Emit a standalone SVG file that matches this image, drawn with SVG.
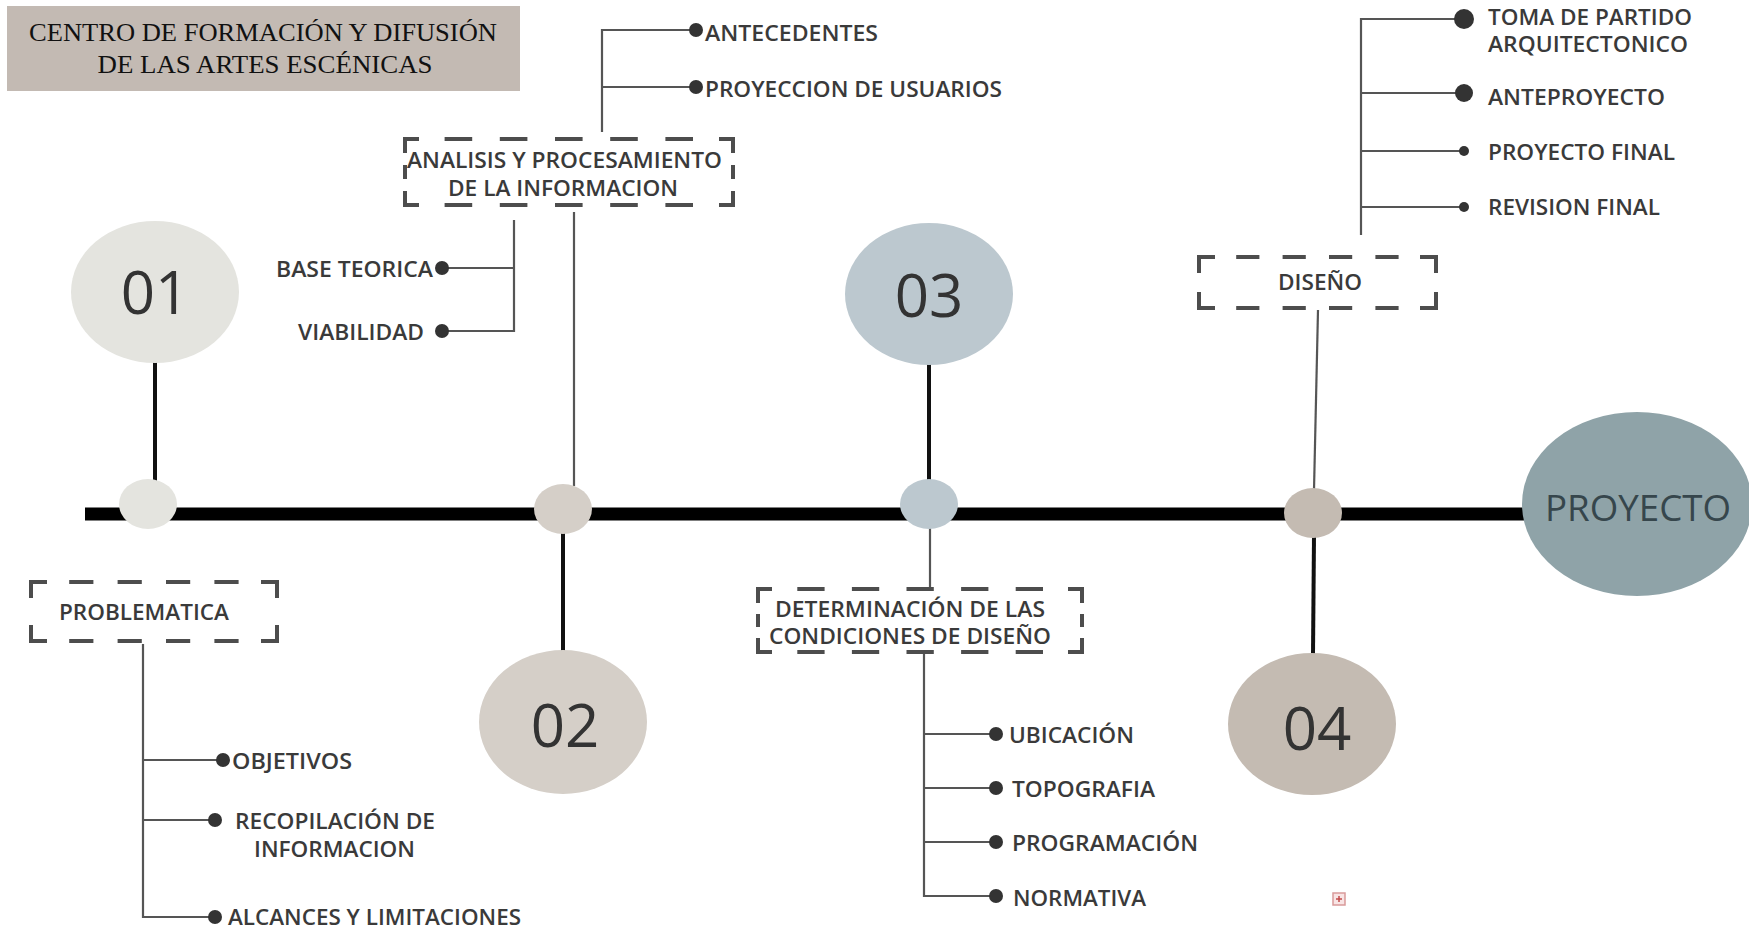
<svg xmlns="http://www.w3.org/2000/svg" width="1749" height="928" viewBox="0 0 1749 928">
<style>
.lbl{font-family:"Open Sans","DejaVu Sans",sans-serif;font-size:21px;font-weight:600;fill:#3a3a3a;}
.num{font-family:"Open Sans","DejaVu Sans",sans-serif;font-size:60px;fill:#333;text-anchor:middle;}
.thin{stroke:#555;stroke-width:2.2;fill:none;}
.thick{stroke:#111;stroke-width:4;fill:none;}
.dash{stroke:#4d4d4d;stroke-width:4;fill:none;}
.corner{stroke:#4d4d4d;stroke-width:4;fill:none;stroke-linecap:square;}
.dot{fill:#333;}
</style>
<rect width="1749" height="928" fill="#fff"/>

<g id="connectors">
  <line x1="85" y1="514" x2="1530" y2="514" stroke="#000" stroke-width="13"/>
  <line class="thick" x1="155" y1="362" x2="155" y2="482"/>
  <line class="thin" x1="574" y1="212" x2="574" y2="486"/>
  <line class="thick" x1="563" y1="530" x2="563" y2="652"/>
  <line class="thick" x1="929" y1="364" x2="929" y2="482"/>
  <line class="thin" x1="930" y1="526" x2="930" y2="591"/>
  <line class="thin" x1="1318" y1="310" x2="1314" y2="490"/>
  <line class="thick" x1="1314" y1="536" x2="1313" y2="654"/>
  <path class="thin" d="M602,132 V30 H696 M602,87 H696"/>
  <path class="thin" d="M514,220 V331 H442 M514,268 H442"/>
  <path class="thin" d="M1361,235 V19 H1464 M1361,93 H1464 M1361,151 H1464 M1361,207 H1464"/>
  <path class="thin" d="M143,644 V917 H215 M143,760 H223 M143,820 H215"/>
  <path class="thin" d="M924,652 V896 H996 M924,734 H996 M924,788 H996 M924,842 H996"/>
</g>

<g id="title">
  <rect x="7" y="6" width="513" height="85" fill="#c3bab3"/>
  <text x="263" y="41" text-anchor="middle" font-family="Liberation Serif, serif" font-size="25" fill="#111" textLength="468" lengthAdjust="spacingAndGlyphs">CENTRO DE FORMACIÓN Y DIFUSIÓN</text>
  <text x="265" y="73" text-anchor="middle" font-family="Liberation Serif, serif" font-size="25" fill="#111" textLength="335" lengthAdjust="spacingAndGlyphs">DE LAS ARTES ESCÉNICAS</text>
</g>

<g id="step-01">
  <ellipse cx="155" cy="292" rx="84" ry="71" fill="#e4e4df"/>
  <text class="num" x="155" y="314">01</text>
  <ellipse cx="148" cy="504" rx="29" ry="25" fill="#e4e4df"/>
</g>
<g id="step-02">
  <ellipse cx="563" cy="722" rx="84" ry="72" fill="#d5cfc8"/>
  <text class="num" x="565" y="747">02</text>
  <ellipse cx="563" cy="509" rx="29" ry="25" fill="#d5cfc8"/>
</g>
<g id="step-03">
  <ellipse cx="929" cy="294" rx="84" ry="71" fill="#bcc8cf"/>
  <text class="num" x="929" y="317">03</text>
  <ellipse cx="929" cy="504" rx="29" ry="25" fill="#bcc8cf"/>
</g>
<g id="step-04">
  <ellipse cx="1312" cy="724" rx="84" ry="71" fill="#c4bbb2"/>
  <text class="num" x="1317" y="750">04</text>
  <ellipse cx="1313" cy="513" rx="29" ry="25" fill="#c4bbb2"/>
</g>

<g id="proyecto">
  <ellipse cx="1637" cy="504" rx="115" ry="92" fill="#8fa3a8"/>
  <text x="1638" y="521" text-anchor="middle" font-family="Open Sans, sans-serif" font-size="36" fill="#36464c" textLength="186" lengthAdjust="spacingAndGlyphs">PROYECTO</text>
</g>

<g id="analisis">
  <path class="corner" d="M405,151 V139 H417 M721,139 H733 V151 M405,193 V205 H417 M721,205 H733 V193"/>
  <path class="dash" d="M417,139 H721 M417,205 H721" stroke-dasharray="27.6 27.6" stroke-dashoffset="27.6"/>
  <path class="dash" d="M405,151 V193 M733,151 V193" stroke-dasharray="14 14" stroke-dashoffset="14"/>
  <text class="lbl" x="407" y="168" textLength="315" lengthAdjust="spacingAndGlyphs">ANALISIS Y PROCESAMIENTO</text>
  <text class="lbl" x="448" y="196" textLength="230" lengthAdjust="spacingAndGlyphs">DE LA INFORMACION</text>
</g>
<g id="antecedentes">
  <circle class="dot" cx="696" cy="30" r="7"/>
  <text class="lbl" x="705" y="41" textLength="173" lengthAdjust="spacingAndGlyphs">ANTECEDENTES</text>
</g>
<g id="proyeccion-usuarios">
  <circle class="dot" cx="696" cy="87" r="7"/>
  <text class="lbl" x="705" y="97" textLength="297" lengthAdjust="spacingAndGlyphs">PROYECCION DE USUARIOS</text>
</g>
<g id="base-teorica">
  <circle class="dot" cx="442" cy="268" r="7"/>
  <text class="lbl" x="276" y="277" textLength="157" lengthAdjust="spacingAndGlyphs">BASE TEORICA</text>
</g>
<g id="viabilidad">
  <circle class="dot" cx="442" cy="331" r="7"/>
  <text class="lbl" x="298" y="340" textLength="126" lengthAdjust="spacingAndGlyphs">VIABILIDAD</text>
</g>

<g id="problematica">
  <path class="corner" d="M31,596 V582 H45 M263,582 H277 V596 M31,627 V641 H45 M263,641 H277 V627"/>
  <path class="dash" d="M45,582 H263 M45,641 H263" stroke-dasharray="24.2 24.2" stroke-dashoffset="24.2"/>
  <text class="lbl" x="59" y="620" textLength="170" lengthAdjust="spacingAndGlyphs">PROBLEMATICA</text>
</g>
<g id="objetivos">
  <circle class="dot" cx="223" cy="760" r="7"/>
  <text class="lbl" x="232" y="769" textLength="120" lengthAdjust="spacingAndGlyphs">OBJETIVOS</text>
</g>
<g id="recopilacion">
  <circle class="dot" cx="215" cy="820" r="7"/>
  <text class="lbl" x="235" y="829" textLength="200" lengthAdjust="spacingAndGlyphs">RECOPILACIÓN DE</text>
  <text class="lbl" x="254" y="857" textLength="161" lengthAdjust="spacingAndGlyphs">INFORMACION</text>
</g>
<g id="alcances">
  <circle class="dot" cx="215" cy="917" r="7"/>
  <text class="lbl" x="228" y="925" textLength="293" lengthAdjust="spacingAndGlyphs">ALCANCES Y LIMITACIONES</text>
</g>

<g id="determinacion">
  <path class="corner" d="M758,601 V589 H770 M1070,589 H1082 V601 M758,640 V652 H770 M1070,652 H1082 V640"/>
  <path class="dash" d="M770,589 H1070 M770,652 H1070" stroke-dasharray="27.3 27.3" stroke-dashoffset="27.3"/>
  <path class="dash" d="M758,601 V640 M1082,601 V640" stroke-dasharray="13 13" stroke-dashoffset="13"/>
  <text class="lbl" x="775" y="617" textLength="270" lengthAdjust="spacingAndGlyphs">DETERMINACIÓN DE LAS</text>
  <text class="lbl" x="769" y="644" textLength="282" lengthAdjust="spacingAndGlyphs">CONDICIONES DE DISEÑO</text>
</g>
<g id="ubicacion">
  <circle class="dot" cx="996" cy="734" r="7"/>
  <text class="lbl" x="1009" y="743" textLength="125" lengthAdjust="spacingAndGlyphs">UBICACIÓN</text>
</g>
<g id="topografia">
  <circle class="dot" cx="996" cy="788" r="7"/>
  <text class="lbl" x="1012" y="797" textLength="143" lengthAdjust="spacingAndGlyphs">TOPOGRAFIA</text>
</g>
<g id="programacion">
  <circle class="dot" cx="996" cy="842" r="7"/>
  <text class="lbl" x="1012" y="851" textLength="186" lengthAdjust="spacingAndGlyphs">PROGRAMACIÓN</text>
</g>
<g id="normativa">
  <circle class="dot" cx="996" cy="896" r="7"/>
  <text class="lbl" x="1013" y="906" textLength="133" lengthAdjust="spacingAndGlyphs">NORMATIVA</text>
</g>

<g id="diseno">
  <path class="corner" d="M1199,271 V257 H1213 M1422,257 H1436 V271 M1199,294 V308 H1213 M1422,308 H1436 V294"/>
  <path class="dash" d="M1213,257 H1422 M1213,308 H1422" stroke-dasharray="23.2 23.2" stroke-dashoffset="23.2"/>
  <text class="lbl" x="1278" y="290" textLength="84" lengthAdjust="spacingAndGlyphs">DISEÑO</text>
</g>
<g id="toma-partido">
  <circle class="dot" cx="1464" cy="19" r="10"/>
  <text class="lbl" x="1488" y="25" textLength="204" lengthAdjust="spacingAndGlyphs">TOMA DE PARTIDO</text>
  <text class="lbl" x="1488" y="52" textLength="200" lengthAdjust="spacingAndGlyphs">ARQUITECTONICO</text>
</g>
<g id="anteproyecto">
  <circle class="dot" cx="1464" cy="93" r="9"/>
  <text class="lbl" x="1488" y="105" textLength="177" lengthAdjust="spacingAndGlyphs">ANTEPROYECTO</text>
</g>
<g id="proyecto-final">
  <circle class="dot" cx="1464" cy="151" r="5"/>
  <text class="lbl" x="1488" y="160" textLength="187" lengthAdjust="spacingAndGlyphs">PROYECTO FINAL</text>
</g>
<g id="revision-final">
  <circle class="dot" cx="1464" cy="207" r="5"/>
  <text class="lbl" x="1488" y="215" textLength="172" lengthAdjust="spacingAndGlyphs">REVISION FINAL</text>
</g>

<g id="icon">
  <rect x="1333" y="893" width="12" height="12" fill="#f8e4e4" stroke="#d99a9a" stroke-width="1.5"/>
  <path d="M1339,896 V902 M1336,899 H1342" stroke="#c24a4a" stroke-width="1.5"/>
</g>
</svg>
